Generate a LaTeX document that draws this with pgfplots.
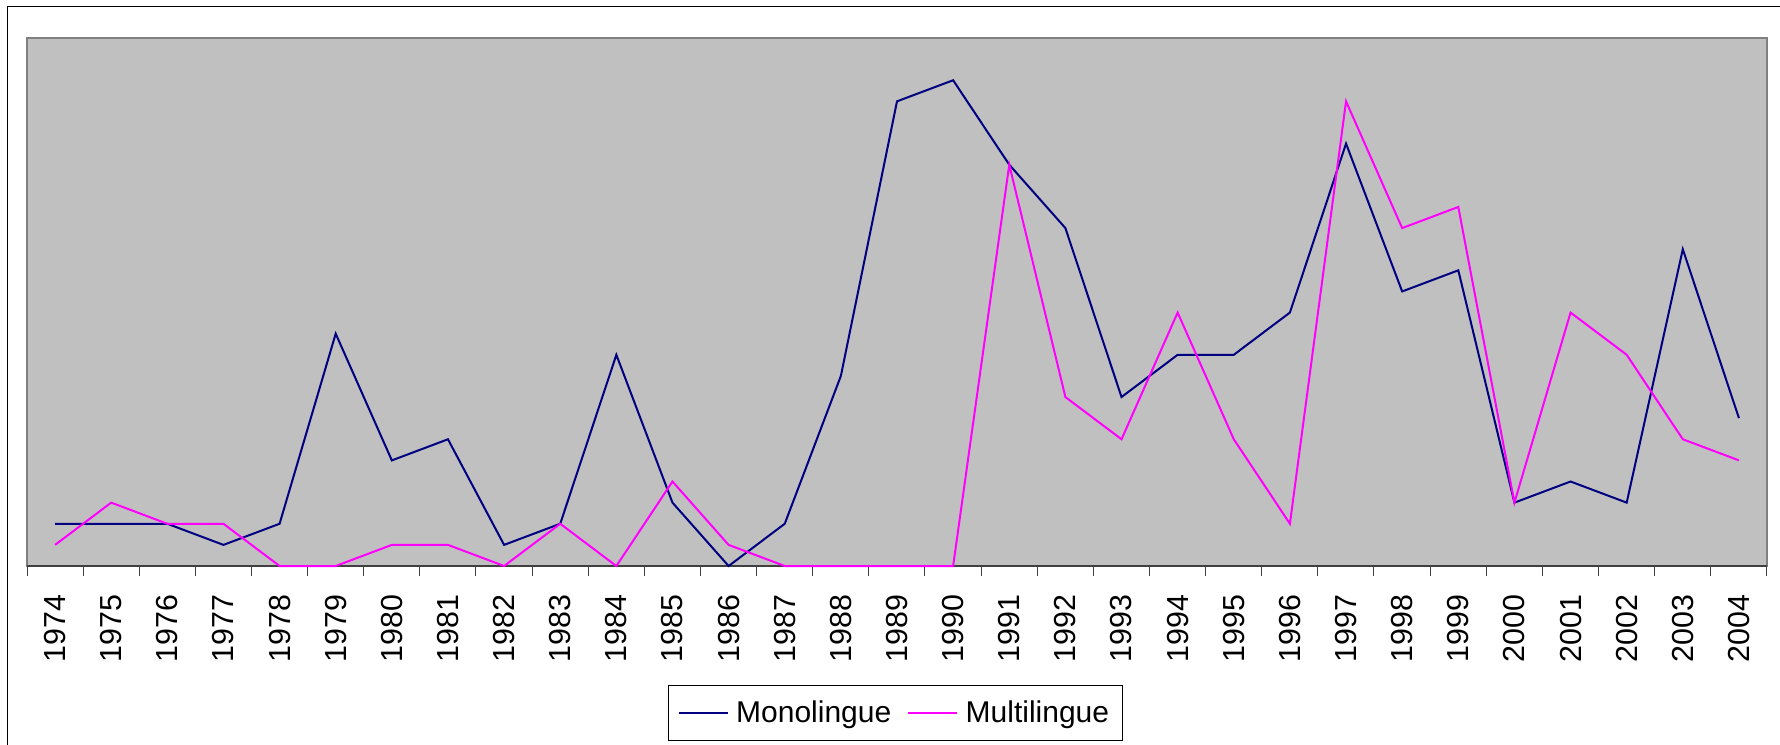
\documentclass[border=0pt]{standalone}
\usepackage{pgfplots}
\pgfplotsset{compat=1.18}
\usepackage{fontspec}
\setmainfont{Liberation Sans}
\definecolor{plotbg}{RGB}{192,192,192}
\definecolor{mono}{RGB}{0,0,128}
\definecolor{multi}{RGB}{255,0,255}
\definecolor{bordergray}{RGB}{128,128,128}
\definecolor{axisdark}{RGB}{64,64,64}
\pgfplotstableread{
year mono multi
1974 2 1
1975 2 3
1976 2 2
1977 1 2
1978 2 0
1979 11 0
1980 5 1
1981 6 1
1982 1 0
1983 2 2
1984 10 0
1985 3 4
1986 0 1
1987 2 0
1988 9 0
1989 22 0
1990 23 0
1991 19 19
1992 16 8
1993 8 6
1994 10 12
1995 10 6
1996 12 2
1997 20 22
1998 13 16
1999 14 17
2000 3 3
2001 4 12
2002 3 10
2003 15 6
2004 7 5
}\datatable
\begin{document}
\begin{tikzpicture}
\path[use as bounding box] (0bp,0bp) rectangle (890bp,372.5bp);
\draw[black, line width=0.6bp] (3.65bp,-10bp) -- (3.65bp,369.35bp) -- (900bp,369.35bp);
\begin{axis}[
  at={(13.5bp,89.5bp)}, anchor=south west,
  scale only axis, width=870bp, height=264bp,
  xmin=1973.5, xmax=2004.5, ymin=0, ymax=25,
  ytick=\empty,
  xtick={1974,1975,...,2004},
  minor xtick={1973.5,1974.5,...,2004.5},
  xtick pos=bottom,
  major tick length=0pt,
  minor tick length=5bp,
  tick align=outside,
  minor tick style={axisdark, line width=0.5bp},
  axis line style={draw=none},
  axis background/.style={fill=plotbg, draw=bordergray, line width=1bp},
  /pgf/number format/.cd, 1000 sep={}, assume math mode=true, /pgfplots/.cd,
  xticklabel style={font=\fontsize{15.2bp}{18bp}\selectfont, inner sep=0pt, rotate=90, anchor=east},
  xticklabel shift=14bp,
  clip=false,
  legend columns=2,
  legend style={at={(0.4991,-0.2784)}, anchor=center, draw=black, line width=0.5bp,
    font=\fontsize{15bp}{18bp}\selectfont, inner xsep=4.5bp, inner ysep=5.4bp,
    nodes={inner sep=2bp},
    /tikz/every even column/.append style={column sep=6bp}},
  legend image code/.code={\draw[#1] (0bp,0bp) -- (24.5bp,0bp); \path (26.2bp,0bp);},
]
\draw[axisdark, line width=0.9bp] (rel axis cs:0,0) -- (rel axis cs:1,0);
\addplot[mono, line width=1bp] table[x=year, y=mono] {\datatable};
\addlegendentry{Monolingue}
\addplot[multi, line width=1bp] table[x=year, y=multi] {\datatable};
\addlegendentry{Multilingue}
\end{axis}
\end{tikzpicture}
\end{document}
